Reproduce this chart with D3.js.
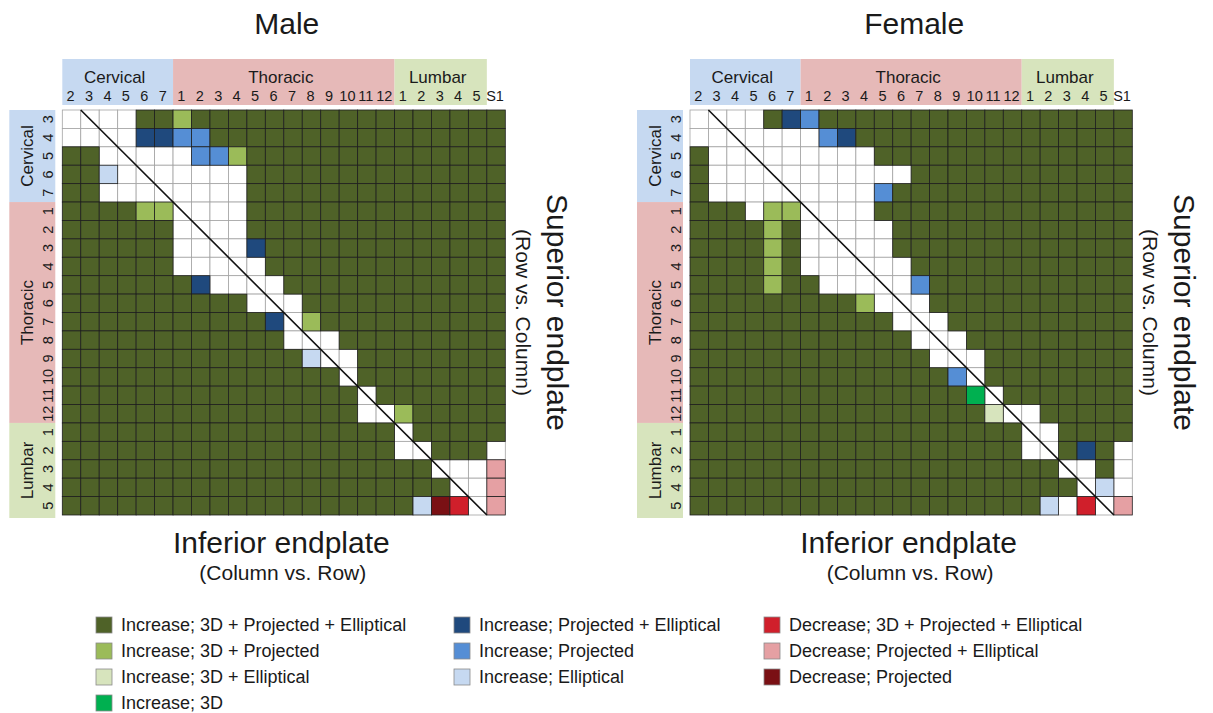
<!DOCTYPE html>
<html>
<head>
<meta charset="utf-8">
<script src="https://cdn.jsdelivr.net/npm/d3@7"></script>
<style>
  body { margin: 0; background: #fff; }
  svg { display: block; }
  text { font-family: "Liberation Sans", Arial, Helvetica, sans-serif; fill: #1a1a1a; }
</style>
</head>
<body>
<svg id="chart" width="1213" height="713"></svg>
<script>
// Inferior endplates (columns) and superior endplates (rows)
const columnIds = ["C2","C3","C4","C5","C6","C7",
  "T1","T2","T3","T4","T5","T6","T7","T8","T9","T10","T11","T12",
  "L1","L2","L3","L4","L5","S1"];
const columnLabels = ["2","3","4","5","6","7",
  "1","2","3","4","5","6","7","8","9","10","11","12",
  "1","2","3","4","5","S1"];
const rowIds = ["C3","C4","C5","C6","C7",
  "T1","T2","T3","T4","T5","T6","T7","T8","T9","T10","T11","T12",
  "L1","L2","L3","L4","L5"];
const rowLabels = ["3","4","5","6","7",
  "1","2","3","4","5","6","7","8","9","10","11","12",
  "1","2","3","4","5"];
const regionKeys = ["C","T","L"];
const regionNames = ["Cervical","Thoracic","Lumbar"];

// Result code per cell, one string per row, grouped C2-C7 | T1-T12 | L1-L5 | S1
// D 3D+Proj+Ell increase, L 3D+Proj, E 3D+Ell, G 3D, N Proj+Ell, B Proj, P Ell,
// R decrease 3D+Proj+Ell, K decrease Proj+Ell, M decrease Proj, W no difference
const maleRows = [
  "WWWWDD LDDDDDDDDDDD DDDDD D",
  "WWWWNN BBDDDDDDDDDD DDDDD D",
  "DDWWWW WBBLDDDDDDDD DDDDD D",
  "DDPWWW WWWWDDDDDDDD DDDDD D",
  "DDWWWW WWWWDDDDDDDD DDDDD D",
  "DDDDLL WWWWDDDDDDDD DDDDD D",
  "DDDDDD WWWWDDDDDDDD DDDDD D",
  "DDDDDD WWWWNDDDDDDD DDDDD D",
  "DDDDDD WWWWWDDDDDDD DDDDD D",
  "DDDDDD DNWWWWDDDDDD DDDDD D",
  "DDDDDD DDDDWWWDDDDD DDDDD D",
  "DDDDDD DDDDDNWLDDDD DDDDD D",
  "DDDDDD DDDDDDWWWDDD DDDDD D",
  "DDDDDD DDDDDDDPWWDD DDDDD D",
  "DDDDDD DDDDDDDDDWDD DDDDD D",
  "DDDDDD DDDDDDDDDDWD DDDDD D",
  "DDDDDD DDDDDDDDDDWW LDDDD D",
  "DDDDDD DDDDDDDDDDDD WDDDD D",
  "DDDDDD DDDDDDDDDDDD WWDDD W",
  "DDDDDD DDDDDDDDDDDD DDWWW K",
  "DDDDDD DDDDDDDDDDDD DDDWW K",
  "DDDDDD DDDDDDDDDDDD DPMRW K"
];
const femaleRows = [
  "WWWWDN BDDDDDDDDDDD DDDDD D",
  "WWWWWW WBNDDDDDDDDD DDDDD D",
  "DWWWWW WWWWDDDDDDDD DDDDD D",
  "DWWWWW WWWWWWDDDDDD DDDDD D",
  "DWWWWW WWWWBDDDDDDD DDDDD D",
  "DDDWLL WWWWDDDDDDDD DDDDD D",
  "DDDDLD WWWWWDDDDDDD DDDDD D",
  "DDDDLD WWWWWDDDDDDD DDDDD D",
  "DDDDLD WWWWWWDDDDDD DDDDD D",
  "DDDDLD DWWWWWBDDDDD DDDDD D",
  "DDDDDD DDDLWWWDDDDD DDDDD D",
  "DDDDDD DDDDDWWWDDDD DDDDD D",
  "DDDDDD DDDDDDWWWDDD DDDDD D",
  "DDDDDD DDDDDDDWWWDD DDDDD D",
  "DDDDDD DDDDDDDDBWDD DDDDD D",
  "DDDDDD DDDDDDDDDGWD DDDDD D",
  "DDDDDD DDDDDDDDDDEW WDDDD D",
  "DDDDDD DDDDDDDDDDDD WWDDD D",
  "DDDDDD DDDDDDDDDDDD WWDND W",
  "DDDDDD DDDDDDDDDDDD DDWWD W",
  "DDDDDD DDDDDDDDDDDD DDDWP W",
  "DDDDDD DDDDDDDDDDDD DPWRW K"
];

const categoryCodes = ["D","L","E","G","N","B","P","R","K","M"];
const categoryLabels = [
  "Increase; 3D + Projected + Elliptical",
  "Increase; 3D + Projected",
  "Increase; 3D + Elliptical",
  "Increase; 3D",
  "Increase; Projected + Elliptical",
  "Increase; Projected",
  "Increase; Elliptical",
  "Decrease; 3D + Projected + Elliptical",
  "Decrease; Projected + Elliptical",
  "Decrease; Projected"
];
const legendColumns = [["D","L","E","G"], ["N","B","P"], ["R","K","M"]];

// Fill colours
const cellColor = d3.scaleOrdinal()
  .domain(["W", ...categoryCodes])
  .range(["#ffffff","#4f6228","#9bbb59","#d7e4bd","#00b050",
          "#1f497d","#558ed5","#c6d9f1","#d01f2b","#e5a0a3","#7a1014"]);
const bandColor = d3.scaleOrdinal().domain(regionKeys)
  .range(["#c6d9f1","#e6b9b8","#d7e4bd"]);

const svg = d3.select("#chart");

function drawPanel(title, rows, left, right, top, bottom) {
  const g = svg.append("g");
  const x = d3.scaleBand().domain(columnIds).range([left, right]);
  const y = d3.scaleBand().domain(rowIds).range([top, bottom]);
  const bw = x.bandwidth(), bh = y.bandwidth();
  const cx = (left + right) / 2, cy = (top + bottom) / 2;

  // column header bands
  regionKeys.forEach((k, i) => {
    const ids = columnIds.filter(c => c.startsWith(k) && c !== "S1");
    const x0 = x(ids[0]), x1 = x(ids[ids.length - 1]) + bw;
    g.append("rect").attr("x", x0).attr("y", top - 51).attr("width", x1 - x0)
      .attr("height", 46).attr("fill", bandColor(k));
    g.append("text").attr("x", (x0 + x1) / 2 - 3).attr("y", top - 27)
      .attr("text-anchor", "middle").style("font-size", "17px").text(regionNames[i]);
  });
  g.selectAll(".colLabel").data(columnIds).join("text")
    .attr("x", d => x(d) + bw / 2 - 1).attr("y", top - 9)
    .attr("text-anchor", "middle").style("font-size", "14.5px")
    .text((d, i) => columnLabels[i]);

  // row header bands
  regionKeys.forEach((k, i) => {
    const ids = rowIds.filter(r => r.startsWith(k));
    const y0 = y(ids[0]), y1 = y(ids[ids.length - 1]) + bh + (i === 2 ? 3 : 0);
    g.append("rect").attr("x", left - 53).attr("y", y0).attr("width", 46)
      .attr("height", y1 - y0).attr("fill", bandColor(k));
    g.append("text")
      .attr("transform", `translate(${left - 29},${(y0 + y1) / 2}) rotate(-90)`)
      .attr("text-anchor", "middle").style("font-size", "17px").text(regionNames[i]);
  });
  g.selectAll(".rowLabel").data(rowIds).join("text")
    .attr("transform", d => `translate(${left - 9},${y(d) + bh / 2}) rotate(-90)`)
    .attr("text-anchor", "middle").style("font-size", "14.5px")
    .text((d, i) => rowLabels[i]);

  // cells
  const cells = [];
  rows.forEach((s, ri) => {
    s.replace(/ /g, "").split("").forEach((code, ci) => {
      cells.push({ row: rowIds[ri], col: columnIds[ci], code });
    });
  });
  cells.sort((a, b) => (a.code === "W" ? 0 : 1) - (b.code === "W" ? 0 : 1));
  g.selectAll(".cell").data(cells).join("rect")
    .attr("x", d => x(d.col)).attr("y", d => y(d.row))
    .attr("width", bw).attr("height", bh)
    .attr("fill", d => cellColor(d.code))
    .attr("stroke", d => d.code === "W" ? "#a3a3a3" : "#1e1e1e")
    .attr("stroke-width", 0.8);

  // identity diagonal: row vertebra equals column vertebra
  const first = rowIds[0], last = rowIds[rowIds.length - 1];
  g.append("line")
    .attr("x1", x(first)).attr("y1", y(first))
    .attr("x2", x(last) + bw).attr("y2", y(last) + bh)
    .attr("stroke", "#111").attr("stroke-width", 1.6);

  // titles
  g.append("text").attr("x", cx + 3).attr("y", 34).attr("text-anchor", "middle")
    .style("font-size", "30px").text(title);
  g.append("text").attr("x", cx - 2.5).attr("y", bottom + 38).attr("text-anchor", "middle")
    .style("font-size", "30px").text("Inferior endplate");
  g.append("text").attr("x", cx - 1).attr("y", bottom + 65).attr("text-anchor", "middle")
    .style("font-size", "21px").text("(Column vs. Row)");
  g.append("text").attr("transform", `translate(${right + 42},${cy}) rotate(90)`)
    .attr("text-anchor", "middle").style("font-size", "30px").text("Superior endplate");
  g.append("text").attr("transform", `translate(${right + 11},${cy}) rotate(90)`)
    .attr("text-anchor", "middle").style("font-size", "21px").text("(Row vs. Column)");
}

drawPanel("Male", maleRows, 62.3, 505.3, 110, 515);
drawPanel("Female", femaleRows, 690, 1132.3, 110, 515);

// legend
const legendX = [96, 454, 764];
const legendY = d3.scaleLinear().domain([0, 1]).range([617, 643]);
const legend = svg.append("g");
legendColumns.forEach((codes, ci) => {
  codes.forEach((code, ri) => {
    const y0 = legendY(ri);
    legend.append("rect").attr("x", legendX[ci]).attr("y", y0)
      .attr("width", 16).attr("height", 16)
      .attr("fill", cellColor(code)).attr("stroke", "#8a8a8a").attr("stroke-width", 0.8);
    legend.append("text").attr("x", legendX[ci] + 25).attr("y", y0 + 13.5)
      .style("font-size", "18px").text(categoryLabels[categoryCodes.indexOf(code)]);
  });
});
</script>
</body>
</html>
